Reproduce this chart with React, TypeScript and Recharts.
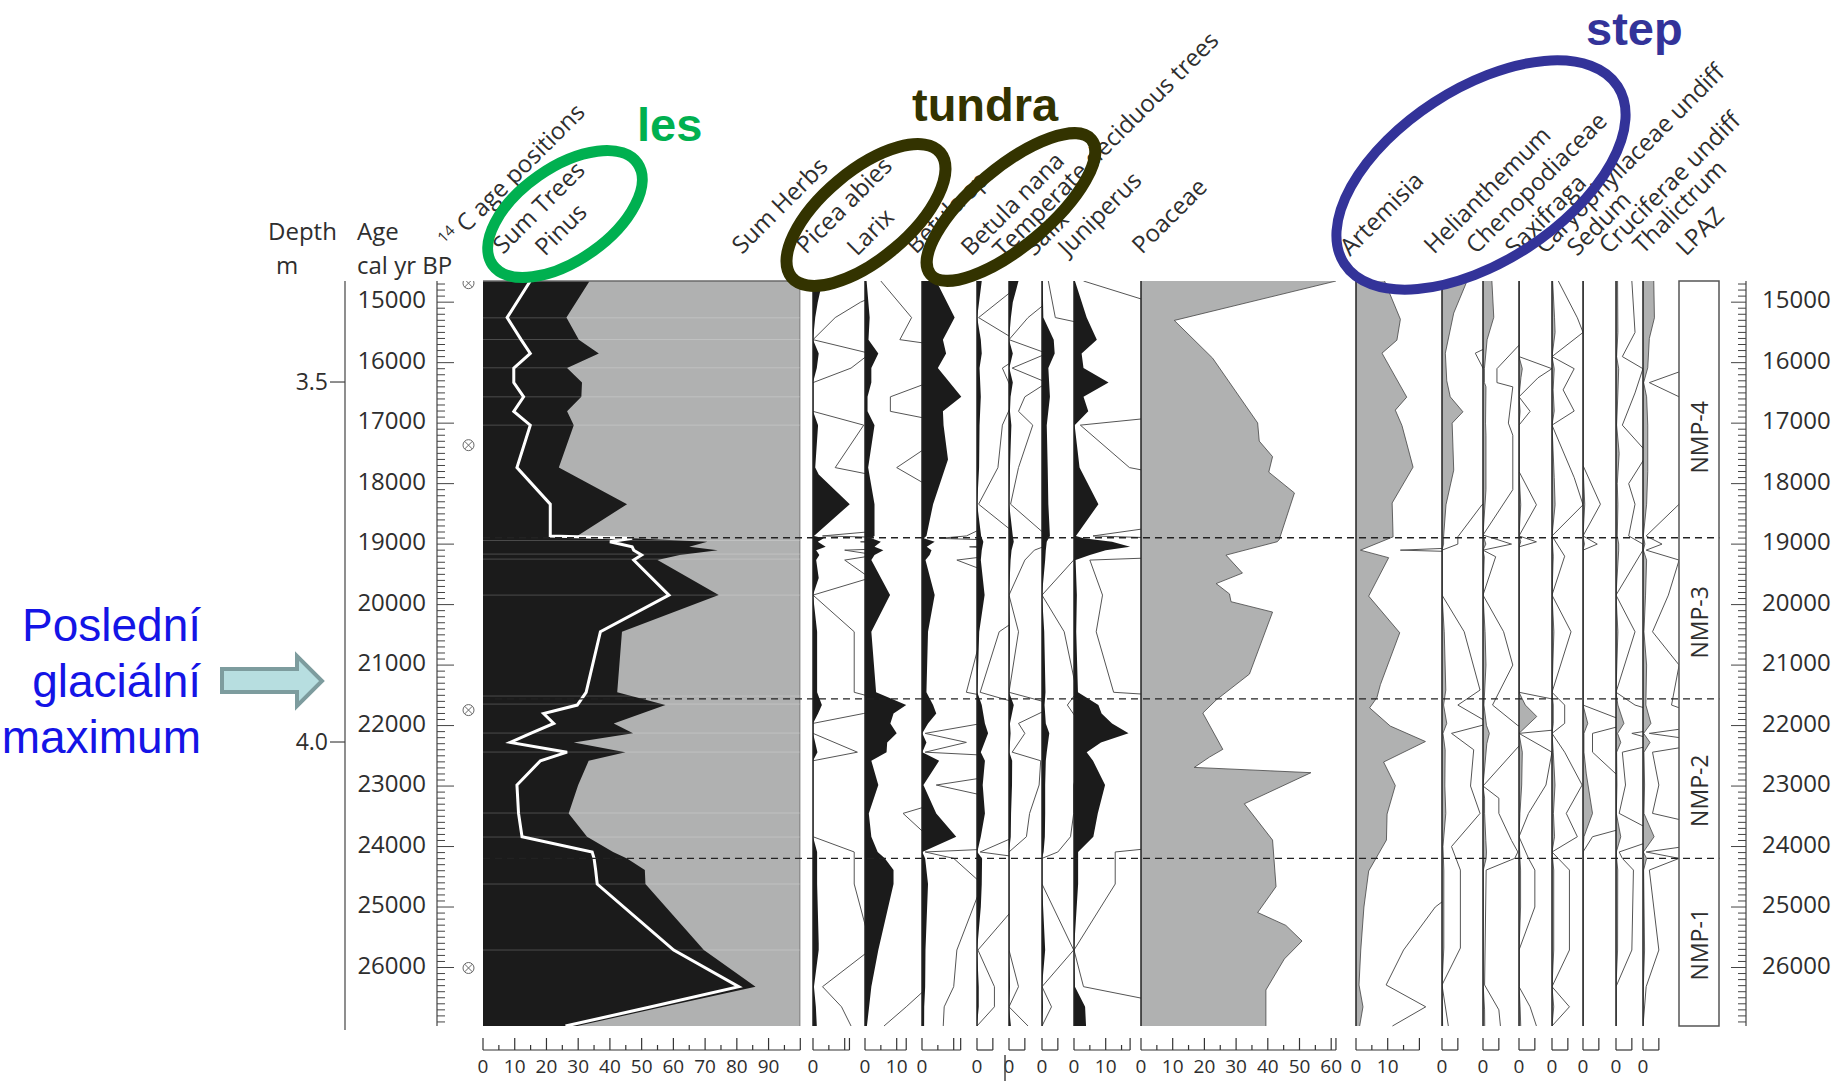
import React from "react";
import { ComposedChart, Area, Line, XAxis, YAxis, ReferenceLine, ReferenceArea, Scatter } from "recharts";

// ---- data (age in cal yr BP, values in %) ----
const sampleAges = [14650, 15255, 15620, 15848, 16090, 16330, 16565, 16805, 17033, 17735, 18340, 18865, 18905, 18962, 19045, 19100, 19180, 19264, 19843, 20449, 21450, 21661, 21800, 21964, 22129, 22278, 22440, 22582, 22983, 23452, 23838, 24090, 24196, 24389, 24620, 25711, 26317, 26650, 26967];
const sumTrees = [33.6, 26.3, 30.2, 36.5, 26.5, 31.2, 31, 26.5, 28.6, 23.9, 45.4, 29.7, 47, 70.7, 65, 74, 62, 55, 74.3, 43.8, 42.3, 57.5, 50, 41.2, 47.3, 28.6, 44.9, 33.3, 30, 27, 32.8, 41, 45.4, 51, 51.2, 69.6, 85.9, 57, 29.7];
const pinus = [14.9, 7.6, 12, 14.9, 9.7, 9.7, 12.8, 9.7, 14.9, 10.7, 21.2, 21.2, 47, 40, 47, 47.5, 50, 47.5, 58.6, 37, 32.5, 29.7, 19.1, 22.3, 15, 8.6, 26.5, 18.1, 10.7, 11.2, 12.3, 34.4, 35, 35.5, 36, 60.1, 80.6, 53, 26];
const sumHerbs = sumTrees.map((t) => 100 - t);

const piceaAbies = [[14650, 3], [15000, 1.5], [15255, 0.7], [15620, 0], [15848, 1.8], [16090, 1.2], [16330, 0], [16805, 0], [17033, 1.6], [17735, 0.7], [17850, 1.8], [18340, 11.6], [18865, 0.3], [18905, 3.4], [18962, 1.5], [19045, 4], [19100, 1], [19180, 2], [19264, 1], [19560, 1.8], [19843, 0], [20449, 1.3], [21450, 1.3], [21661, 2.8], [21800, 1.6], [21964, 0], [22129, 0], [22440, 1.4], [22582, 0], [23838, 0], [24090, 1.3], [24620, 1.3], [25600, 1.8], [25711, 1.8], [26317, 0.3], [26650, 0.9], [26967, 1.2]];
const larix = [[14650, 0.5], [15255, 1.47], [15620, 1.1], [15848, 4.2], [16090, 2], [16330, 2], [16565, 0.8], [16805, 0.8], [17033, 3], [17735, 1], [18340, 3], [18865, 3], [18905, 2], [18962, 5], [19045, 3], [19100, 5.8], [19180, 3], [19264, 2], [19843, 7.9], [20449, 2], [21450, 3.5], [21661, 13], [21800, 9], [21964, 8], [22129, 10], [22278, 7], [22440, 6.8], [22582, 2], [22983, 4.2], [23452, 1.2], [23838, 2], [24090, 4], [24196, 6.3], [24389, 9], [24620, 9], [25711, 4.2], [26317, 2], [26650, 1.3], [26967, 0.6]];
const betulaSp = [[14650, 4.5], [15255, 10.3], [15620, 6.6], [15848, 7.6], [16090, 5], [16565, 12.4], [16805, 6.6], [17033, 6.8], [17600, 8.2], [18340, 3.5], [18865, 1.4], [18905, 0.55], [18962, 4], [19045, 1.5], [19100, 3], [19180, 2.4], [19264, 1.1], [19843, 4], [20449, 1.9], [21450, 1.4], [21661, 3.5], [21800, 4.5], [21964, 1.9], [22129, 0.1], [22278, 1.4], [22440, 0.1], [22582, 5.4], [22983, 0.45], [23452, 4.5], [23838, 10.8], [24090, 0.1], [24196, 1], [24620, 1.9], [25711, 1.1], [26317, 1], [26650, 0.7], [26967, 0.67]];
const betulaNana = [[14650, 1.5], [15255, 0.05], [15620, 1.2], [15848, 1.5], [16090, 0.8], [16565, 1.2], [17033, 0.8], [17735, 0.66], [18340, 0.05], [18865, 1.3], [18962, 2], [19100, 1.5], [19264, 1.2], [19843, 2.4], [20449, 0.7], [21450, 0.1], [21661, 1.5], [21964, 2.5], [22129, 3.5], [22440, 1.2], [22582, 2.5], [22983, 1.8], [23452, 2.5], [23838, 1.2], [24090, 0.1], [24196, 1.6], [24620, 1.5], [25000, 1.2], [25711, 0.03], [26317, 0.55], [26650, 0.55], [26967, 0]];
const temperateTrees = [[14650, 3], [15000, 1.2], [15255, 0.6], [15620, 0], [15848, 1.2], [16090, 0.1], [16330, 1.2], [16565, 0.5], [16805, 0.3], [17033, 0.75], [17735, 0.3], [18340, 0.05], [18865, 1.2], [18962, 1.5], [19100, 0.8], [19264, 0.5], [19843, 0], [20449, 0.3], [21450, 0], [21661, 1.5], [21964, 0.3], [22129, 0.5], [22440, 0.1], [22582, 1], [22983, 0.95], [23452, 0.65], [23838, 0.55], [24090, 0], [25711, 0], [26317, 0.3], [26650, 0], [26967, 0.6]];
const salix = [[14650, 0.2], [15255, 0.42], [15620, 3.7], [15848, 4], [16090, 2], [16565, 2.5], [17033, 1.5], [17735, 1.8], [18340, 2], [18865, 2.5], [18962, 1.5], [19100, 1.2], [19264, 1], [19843, 0], [20449, 0.7], [21450, 1.1], [21661, 0.8], [21964, 1.2], [22129, 2.3], [22440, 1.5], [22582, 1.2], [22983, 1], [23452, 1], [23838, 0.9], [24090, 0.5], [24196, 0], [24620, 0], [25711, 1], [26317, 0], [26650, 0.3], [26967, 0]];
const juniperus = [[14650, 0.3], [15255, 4], [15620, 7.2], [15848, 2.4], [16090, 3], [16330, 10.9], [16565, 3], [16805, 4.5], [17033, 0.2], [17735, 1.75], [18340, 7.7], [18865, 0.6], [18905, 3], [18962, 12], [19045, 17.7], [19100, 10], [19180, 5], [19264, 0.5], [19843, 0.9], [20449, 0.7], [21450, 1.25], [21661, 7.7], [21800, 8.7], [21964, 12], [22129, 17.2], [22278, 8.5], [22440, 4], [22582, 6], [22983, 9.8], [23452, 7.5], [23838, 6.1], [24090, 1.3], [24620, 1.3], [25711, 0], [26317, 0.3], [26650, 3.5], [26967, 3.8]];
const poaceae = [[14650, 61.5], [15302, 10.5], [15926, 22.6], [16997, 36.8], [17297, 37.3], [17554, 41.5], [17810, 40.3], [18154, 48.4], [18924, 43.6], [18960, 43], [19182, 26.8], [19479, 32], [19653, 23.7], [19823, 27.9], [19952, 28.4], [20124, 41.5], [21149, 34.2], [21578, 23.7], [21793, 19.5], [22393, 25.8], [22521, 21.6], [22692, 16.8], [22779, 53.6], [23293, 32.6], [23893, 41.5], [24663, 42.6], [25091, 36.8], [25304, 45.7], [25562, 50.8], [25860, 45.2], [26372, 39.4], [26967, 39.4]];
const artemisia = [[14650, 9], [15283, 14], [15628, 12.9], [15843, 8.2], [16570, 16], [16785, 12.4], [17040, 14.5], [17727, 18], [18320, 11.4], [18880, 11.7], [19100, 1.4], [19225, 10.3], [19860, 4], [20466, 13.8], [21322, 7.7], [21537, 6.6], [21707, 4.3], [22008, 10.8], [22264, 21.9], [22603, 8.7], [22992, 12.4], [23463, 9.8], [23893, 9.6], [24405, 4], [25000, 2.5], [25711, 1.5], [26289, 0.95], [26650, 2.2], [26967, 1.15]];
const helianthemum = [[14650, 7.9], [15180, 3.7], [15843, 1.05], [16300, 1.5], [16565, 2.6], [16813, 6.6], [17000, 3.2], [17777, 3.7], [18350, 1.26], [18879, 0.5], [19000, 0.5], [19100, 0], [19843, 0], [20449, 0.7], [21413, 1.2], [21661, 0.5], [21964, 1.5], [22129, 0.3], [22400, 1], [23000, 0.9], [23452, 1.2], [24000, 0.3], [24389, 0.58], [25678, 0.58], [26289, 0], [26967, 0.2]];
const chenopodiaceae = [[14650, 2.8], [15250, 3.4], [15620, 1.3], [16100, 0.44], [16330, 0.44], [16400, 0.94], [17000, 0.8], [17200, 0.94], [18100, 0.94], [18850, 0], [19000, 0.9], [19100, 0], [19209, 0.4], [19843, 0], [20449, 0.65], [21000, 0.94], [21661, 0.3], [22000, 1.1], [22129, 2], [22300, 1.2], [23000, 0], [23200, 0.5], [23452, 0.5], [23900, 0.9], [24090, 1.1], [24196, 1], [24389, 0.1], [26289, 0.05], [26700, 0.5], [26967, 0.55]];
const saxifraga = [[14650, 0], [15900, 0], [16100, 1.04], [16250, 0.6], [16565, 0], [16805, 0.35], [17033, 0], [17800, 0], [18350, 0.55], [18865, 0], [18962, 0.55], [19045, 0], [21450, 0], [21661, 2], [21850, 5.6], [22129, 0], [22440, 1.04], [22983, 0.85], [23452, 0.3], [23838, 0], [24196, 0.3], [24389, 0.5], [25000, 0.5], [25711, 0], [26317, 0], [26650, 0.35], [26967, 0.55]];
const caryophyllaceae = [[14650, 0.2], [15259, 0.8], [15500, 0.98], [15900, 0], [16100, 0.7], [16450, 0.35], [16800, 0.7], [17033, 0], [17900, 0.7], [18350, 0.98], [18865, 0], [19200, 0.4], [19843, 0], [20449, 0.6], [21450, 0], [21661, 0.4], [21964, 0.4], [22129, 0], [22440, 0.4], [22983, 0.95], [23452, 0.45], [23838, 0.8], [24090, 0], [24389, 0.55], [25711, 0.55], [26317, 0], [26650, 0.55], [26967, 0]];
const sedum = [[14650, 0], [17700, 0], [18340, 0.55], [18865, 0], [19000, 0.45], [19100, 0], [21661, 0], [21964, 1.5], [22129, 0.3], [22440, 0.3], [22800, 1.04], [23452, 3], [23838, 0.3], [24090, 0], [26967, 0]];
const cruciferae = [[14650, 0.5], [15500, 0.6], [15900, 0.2], [16100, 0.85], [16500, 0.6], [17033, 0.2], [17500, 1], [18000, 0.4], [18340, 0.6], [18865, 0.4], [19000, 0.85], [19100, 0.85], [19843, 0], [20449, 0.6], [21450, 0], [21661, 0.6], [21964, 2.5], [22129, 0.5], [22278, 1.5], [22440, 0.2], [22983, 0.3], [23452, 0.1], [23838, 1.5], [24090, 0.1], [24196, 0.2], [24389, 0.55], [25711, 0.5], [26317, 0], [26967, 0]];
const thalictrum = [[14650, 3.4], [15259, 3.6], [15600, 2], [16085, 1.5], [16330, 0.2], [16565, 1.14], [17033, 1.5], [17800, 1.5], [18340, 1.14], [18865, 0.1], [19000, 0.6], [19100, 0.1], [19264, 1.14], [19843, 0.8], [20449, 0.3], [21000, 1.14], [21661, 0.9], [21964, 2.5], [22129, 0.2], [22278, 2.2], [22440, 0.3], [22983, 0.5], [23452, 0.3], [23838, 3.5], [24090, 0.1], [24196, 1.14], [24389, 0.2], [25711, 0.5], [26317, 0.1], [26967, 0]];

const c14Ages = [14686, 17364, 21744, 26008];
const zoneNames = ["NMP-4", "NMP-3", "NMP-2", "NMP-1"];
const zoneBounds = [18895, 21560, 24196];
const sampleLineAges = [15259, 15617, 16085, 16565, 17033, 18940, 19165, 19248, 19843, 21512, 21645, 22124, 22438, 23446, 23843, 24620, 25711];
const depthTicks = [3.5, 4.0];

// ---- layout ----
const TOP = 281;
const AGE_MIN = 14650;
const AGE_END = 26967;
const AGE_AXIS = 27364; // level of the scale bars under the panels
const PLOT_H = 769;
const AX_H = 31;
const PX_PCT = 3.17;
const BLACK = "#1b1b1b";
const GREY = "#b0b1b1";
const FONT = "'Open Sans', 'DejaVu Sans', sans-serif";
const TXT = "#2e2e2e";
const zoneLabelShift = [28, 4, 12, 2];
const ageTicks: number[] = [];
for (let a = 14700; a <= 26900; a += 100) ageTicks.push(a);

const fives = (n: number) => Array.from({ length: Math.floor(n / 5) + 1 }, (_, i) => i * 5);

const panels = [
  { name: "picea", data: piceaAbies, x: 813, next: 865, end: 11.5, labels: [0], fill: BLACK, exag: true },
  { name: "larix", data: larix, x: 865, next: 922, end: 13, labels: [0, 10], fill: BLACK, exag: true },
  { name: "betulaSp", data: betulaSp, x: 922, next: 977, end: 12.2, labels: [0], fill: BLACK, exag: true },
  { name: "betulaNana", data: betulaNana, x: 977, next: 1009, end: 5, labels: [0], fill: BLACK, exag: true },
  { name: "temperate", data: temperateTrees, x: 1009, next: 1042, end: 5, labels: [0], fill: BLACK, exag: true },
  { name: "salix", data: salix, x: 1042, next: 1074, end: 5, labels: [0], fill: BLACK, exag: true },
  { name: "juniperus", data: juniperus, x: 1074, next: 1141, end: 17.7, labels: [0, 10], fill: BLACK, exag: true },
  { name: "poaceae", data: poaceae, x: 1141, next: 1356, end: 61.5, labels: [0, 10, 20, 30, 40, 50, 60], fill: GREY, exag: false },
  { name: "artemisia", data: artemisia, x: 1356, next: 1442, end: 20, labels: [0, 10], fill: GREY, exag: true },
  { name: "helianthemum", data: helianthemum, x: 1442, next: 1483, end: 5, labels: [0], fill: GREY, exag: true },
  { name: "cheno", data: chenopodiaceae, x: 1483, next: 1519, end: 5, labels: [0], fill: GREY, exag: true },
  { name: "saxifraga", data: saxifraga, x: 1519, next: 1552, end: 5, labels: [0], fill: GREY, exag: true },
  { name: "caryo", data: caryophyllaceae, x: 1552, next: 1583, end: 5, labels: [0], fill: GREY, exag: true },
  { name: "sedum", data: sedum, x: 1583, next: 1616, end: 5, labels: [0], fill: GREY, exag: true },
  { name: "crucif", data: cruciferae, x: 1616, next: 1643, end: 5, labels: [0], fill: GREY, exag: true },
  { name: "thalictrum", data: thalictrum, x: 1643, next: 1679, end: 5, labels: [0], fill: GREY, exag: true },
];

const headerLabels: [string, number, number][] = [
  ["Sum Trees", 503, 255], ["Pinus", 545, 257], ["Sum Herbs", 742, 255], ["Picea abies", 806, 255],
  ["Larix", 857, 257], ["Betula sp.", 916, 255], ["Betula nana", 971, 257], ["Temperate deciduous trees", 1003, 259],
  ["Salix", 1034, 257], ["Juniperus", 1068, 257], ["Poaceae", 1142, 255], ["Artemisia", 1350, 257],
  ["Helianthemum", 1434, 255], ["Chenopodiaceae", 1476, 255], ["Saxifraga", 1515, 257],
  ["Caryophyllaceae undiff", 1545, 255], ["Sedum", 1577, 257], ["Cruciferae undiff", 1609, 255],
  ["Thalictrum", 1643, 255], ["LPAZ", 1686, 257],
];

function BottomTick(props: any) {
  const { x, y, payload, end, labels } = props;
  const v = payload.value;
  const long = v % 10 === 0 || Math.abs(v - end) < 1e-6;
  return (
    <g>
      <line x1={x} x2={x} y1={y - (long ? 12 : 5)} y2={y} stroke="#333" strokeWidth={1.2} />
      {labels.includes(v) && (
        <text x={x} y={y + 23} textAnchor="middle" fontSize={19} fill={TXT} fontFamily={FONT}>{v}</text>
      )}
    </g>
  );
}

function LeftAgeTick(props: any) {
  const { x, y, payload } = props;
  const major = payload.value % 1000 === 0;
  return (
    <g>
      <line x1={x} x2={x + (major ? 17 : 8)} y1={y} y2={y} stroke="#444" strokeWidth={1} />
      {major && <text x={x - 11} y={y + 6} textAnchor="end" fontSize={24} fill={TXT} fontFamily={FONT}>{payload.value}</text>}
    </g>
  );
}

function RightAgeTick(props: any) {
  const { x, y, payload } = props;
  const major = payload.value % 1000 === 0;
  return (
    <g>
      <line x1={x - (major ? 15 : 8)} x2={x} y1={y} y2={y} stroke="#444" strokeWidth={1} />
      {major && <text x={x + 16} y={y + 6} textAnchor="start" fontSize={24} fill={TXT} fontFamily={FONT}>{payload.value}</text>}
    </g>
  );
}

function DepthTick(props: any) {
  const { x, y, payload } = props;
  return (
    <g>
      <line x1={x - 15} x2={x} y1={y} y2={y} stroke="#444" strokeWidth={1.2} />
      <text x={x - 17} y={y + 8} textAnchor="end" fontSize={23} fill={TXT} fontFamily={FONT}>{payload.value.toFixed(1)}</text>
    </g>
  );
}

function C14Mark(props: any) {
  const { cx, cy } = props;
  const r = 5.5;
  const d = r * 0.7;
  return (
    <g stroke="#666" strokeWidth={1} fill="none">
      <circle cx={cx} cy={cy} r={r} />
      <line x1={cx - d} y1={cy - d} x2={cx + d} y2={cy + d} />
      <line x1={cx - d} y1={cy + d} x2={cx + d} y2={cy - d} />
    </g>
  );
}

function ZoneLabel(props: any) {
  const { viewBox, text, shift } = props;
  const cx = viewBox.x + viewBox.width / 2;
  const cy = viewBox.y + viewBox.height / 2 + shift;
  return (
    <text x={cx} y={cy} transform={`rotate(-90 ${cx} ${cy})`} textAnchor="middle" dominantBaseline="central" fontSize={23} fill={TXT} fontFamily={FONT}>{text}</text>
  );
}

function TaxonPanel({ p }: { p: (typeof panels)[number] }) {
  const w = p.next - p.x;
  const maxPct = w / PX_PCT;
  const data = p.data.map(([age, v]) => ({ age, v, ex: v * 10 }));
  const ticks = fives(p.end).concat(p.end % 5 === 0 ? [] : [p.end]);
  return (
    <div style={{ position: "absolute", left: p.x, top: TOP }}>
      <ComposedChart width={w} height={PLOT_H + AX_H} data={data} layout="vertical" margin={{ top: 0, right: 0, bottom: 0, left: 0 }}>
        <XAxis type="number" domain={[0, maxPct]} allowDataOverflow height={AX_H} ticks={ticks} interval={0}
          axisLine={false} tickLine={false} tickSize={0} tickMargin={0} tick={<BottomTick end={p.end} labels={p.labels} />} />
        <YAxis type="number" dataKey="age" domain={[AGE_MIN, AGE_AXIS]} hide allowDataOverflow />
        {p.exag && <Line dataKey="ex" stroke="#555" strokeWidth={1} dot={false} isAnimationActive={false} />}
        <Area dataKey="v" fill={p.fill} fillOpacity={1} stroke={p.fill === BLACK ? "none" : "#444"} strokeWidth={0.8} isAnimationActive={false} />
        <ReferenceLine segment={[{ x: 0, y: AGE_MIN }, { x: 0, y: AGE_END }]} stroke="#222" strokeWidth={1.5} />
        <ReferenceLine segment={[{ x: 0, y: AGE_AXIS }, { x: p.end, y: AGE_AXIS }]} stroke="#333" strokeWidth={1.2} />
      </ComposedChart>
    </div>
  );
}

function SumPanel() {
  const data = sampleAges.map((age, i) => ({ age, trees: sumTrees[i], total: sumTrees[i] + sumHerbs[i], pinus: pinus[i] }));
  const w = 800 - 482.7;
  return (
    <div style={{ position: "absolute", left: 482.7, top: TOP }}>
      <ComposedChart width={w} height={PLOT_H + AX_H} data={data} layout="vertical" margin={{ top: 0, right: 0, bottom: 0, left: 0 }}>
        <XAxis type="number" domain={[0, 100]} allowDataOverflow height={AX_H} ticks={fives(100)} interval={0}
          axisLine={false} tickLine={false} tickSize={0} tickMargin={0}
          tick={<BottomTick end={100} labels={[0, 10, 20, 30, 40, 50, 60, 70, 80, 90]} />} />
        <YAxis type="number" dataKey="age" domain={[AGE_MIN, AGE_AXIS]} hide allowDataOverflow />
        <Area dataKey="total" fill={GREY} fillOpacity={1} stroke="#6a6a6a" strokeWidth={1.5} isAnimationActive={false} />
        <Area dataKey="trees" fill={BLACK} fillOpacity={1} stroke="none" isAnimationActive={false} />
        {sampleLineAges.map((a) => (
          <ReferenceLine key={a} segment={[{ x: 0, y: a }, { x: 100, y: a }]} stroke="#ffffff" strokeOpacity={0.22} strokeWidth={1} />
        ))}
        <Line dataKey="pinus" stroke="#ffffff" strokeWidth={3} dot={false} isAnimationActive={false} />
        <ReferenceLine segment={[{ x: 0, y: AGE_MIN }, { x: 100, y: AGE_MIN }]} stroke="#6a6a6a" strokeWidth={1.5} />
        <ReferenceLine segment={[{ x: 0, y: AGE_AXIS }, { x: 100, y: AGE_AXIS }]} stroke="#333" strokeWidth={1.2} />
      </ComposedChart>
    </div>
  );
}

function AgeAxisLeft() {
  const data = c14Ages.map((age) => ({ age, col: 0.5 }));
  return (
    <div style={{ position: "absolute", left: 300, top: TOP }}>
      <ComposedChart width={200} height={745} data={data} margin={{ top: 0, right: 0, bottom: 0, left: 0 }}>
        <XAxis type="number" dataKey="col" domain={[0, 1]} hide />
        <YAxis type="number" dataKey="age" domain={[AGE_MIN, AGE_END]} reversed width={137} ticks={ageTicks} interval={0}
          tickSize={0} tickMargin={0} tickLine={false} axisLine={{ stroke: "#444", strokeWidth: 1.2 }} tick={<LeftAgeTick />} allowDataOverflow />
        <Scatter dataKey="age" shape={<C14Mark />} isAnimationActive={false} />
      </ComposedChart>
    </div>
  );
}

function DepthAxis() {
  const data = depthTicks.map((depth) => ({ depth, col: 0 }));
  return (
    <div style={{ position: "absolute", left: 200, top: TOP }}>
      <ComposedChart width={146} height={749} data={data} margin={{ top: 0, right: 0, bottom: 0, left: 0 }}>
        <XAxis type="number" dataKey="col" domain={[0, 1]} hide />
        <YAxis type="number" dataKey="depth" domain={[3.3597, 4.4]} reversed width={145} ticks={depthTicks} interval={0}
          tickSize={0} tickMargin={0} tickLine={false} axisLine={{ stroke: "#444", strokeWidth: 1.2 }} tick={<DepthTick />} allowDataOverflow />
      </ComposedChart>
    </div>
  );
}

function AgeAxisRight() {
  const data = [{ age: AGE_MIN, col: 0 }, { age: AGE_END, col: 0 }];
  return (
    <div style={{ position: "absolute", left: 1700, top: TOP }}>
      <ComposedChart width={145} height={745} data={data} margin={{ top: 0, right: 0, bottom: 0, left: 0 }}>
        <XAxis type="number" dataKey="col" domain={[0, 1]} hide />
        <YAxis type="number" dataKey="age" orientation="right" domain={[AGE_MIN, AGE_END]} reversed width={99} ticks={ageTicks} interval={0}
          tickSize={0} tickMargin={0} tickLine={false} axisLine={{ stroke: "#444", strokeWidth: 1.2 }} tick={<RightAgeTick />} allowDataOverflow />
      </ComposedChart>
    </div>
  );
}

function ZonePanel() {
  const edges = [AGE_MIN, ...zoneBounds, AGE_END];
  const data = [{ age: AGE_MIN, col: 0 }, { age: AGE_END, col: 1 }];
  return (
    <div style={{ position: "absolute", left: 1679, top: TOP }}>
      <ComposedChart width={40} height={745} data={data} margin={{ top: 0, right: 0, bottom: 0, left: 0 }}>
        <XAxis type="number" dataKey="col" domain={[0, 1]} hide />
        <YAxis type="number" dataKey="age" domain={[AGE_MIN, AGE_END]} reversed hide allowDataOverflow />
        <ReferenceArea x1={0} x2={1} y1={AGE_MIN} y2={AGE_END} fill="#fff" fillOpacity={1} stroke="#555" strokeWidth={1.5} />
        {zoneNames.map((n, i) => (
          <ReferenceArea key={n} x1={0} x2={1} y1={edges[i]} y2={edges[i + 1]} fill="none" stroke="none"
            label={<ZoneLabel text={n} shift={zoneLabelShift[i]} />} />
        ))}
      </ComposedChart>
    </div>
  );
}

function ZoneLines() {
  const data = [{ age: AGE_MIN, col: 0 }, { age: AGE_END, col: 1 }];
  const w = 1719 - 482.7;
  return (
    <div style={{ position: "absolute", left: 482.7, top: TOP, pointerEvents: "none" }}>
      <ComposedChart width={w} height={745} data={data} margin={{ top: 0, right: 0, bottom: 0, left: 0 }}>
        <XAxis type="number" dataKey="col" domain={[0, 1]} hide />
        <YAxis type="number" dataKey="age" domain={[AGE_MIN, AGE_END]} reversed hide allowDataOverflow />
        {zoneBounds.map((b) => (
          <ReferenceLine key={b} y={b} stroke="#222" strokeWidth={1.3} strokeDasharray="7 5" />
        ))}
      </ComposedChart>
    </div>
  );
}

function Annotations() {
  return (
    <svg width={1845} height={1081} style={{ position: "absolute", left: 0, top: 0, pointerEvents: "none" }}>
      <g fontFamily={FONT} fill={TXT} fontSize={24}>
        <text x={268} y={240}>Depth</text>
        <text x={276} y={274}>m</text>
        <text x={357} y={240}>Age</text>
        <text x={357} y={274}>cal yr BP</text>
        <text x={450} y={250} transform="rotate(-45 450 250)">
          <tspan fontSize={15} dy={-9}>14</tspan>
          <tspan dy={9}> C age positions</tspan>
        </text>
        {headerLabels.map(([t, x, y]) => (
          <text key={t} x={x} y={y} transform={`rotate(-45 ${x} ${y})`}>{t}</text>
        ))}
      </g>
      <line x1={1005} y1={1055} x2={1005} y2={1081} stroke="#444" strokeWidth={1.5} />
      <g fill="none">
        <ellipse cx={565} cy={214} rx={88.5} ry={46.5} transform="rotate(-35 565 214)" stroke="#00b050" strokeWidth={11} />
        <ellipse cx={866} cy={215} rx={97} ry={44} transform="rotate(-40 866 215)" stroke="#333300" strokeWidth={12} />
        <ellipse cx={1011} cy={207} rx={105} ry={39} transform="rotate(-40 1011 207)" stroke="#333300" strokeWidth={12} />
        <ellipse cx={1481} cy={175} rx={163} ry={86.5} transform="rotate(-33 1481 175)" stroke="#333399" strokeWidth={10} />
      </g>
      <g fontFamily="'Liberation Sans', Arial, sans-serif" fontWeight="bold" fontSize={47}>
        <text x={637} y={141} fill="#00b050">les</text>
        <text x={912} y={121} fill="#333300">tundra</text>
        <text x={1586} y={45} fill="#333399">step</text>
      </g>
      <g fontFamily="'Liberation Sans', Arial, sans-serif" fontSize={46} fill="#1414e6" textAnchor="end">
        <text x={201} y={641}>Poslední</text>
        <text x={201} y={697}>glaciální</text>
        <text x={201} y={753}>maximum</text>
      </g>
      <polygon points="222,669 297,669 297,656 322,681 297,706 297,692 222,692" fill="#b7dee0" stroke="#7d9c9e" strokeWidth={4} />
    </svg>
  );
}

export default function App() {
  return (
    <div style={{ position: "absolute", left: 0, top: 0, width: 1845, height: 1081, background: "#fff", overflow: "hidden" }}>
      <style>{".recharts-surface{overflow:visible}"}</style>
      <DepthAxis />
      <AgeAxisLeft />
      <SumPanel />
      {panels.map((p) => (
        <TaxonPanel key={p.name} p={p} />
      ))}
      <ZonePanel />
      <AgeAxisRight />
      <ZoneLines />
      <Annotations />
    </div>
  );
}
